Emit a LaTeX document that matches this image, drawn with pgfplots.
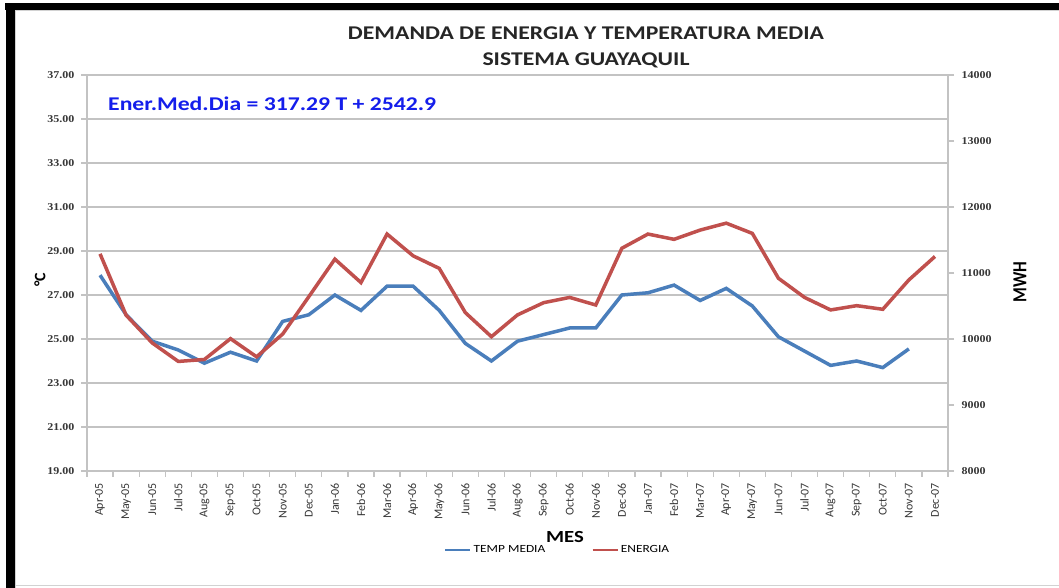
\documentclass[border=0pt]{standalone}
\usepackage{pgfplots}
\pgfplotsset{compat=1.18}
\usepackage{pgfplotstable}
\usepackage{fontspec}
\setmainfont{Carlito}
\newfontfamily\calw[FakeStretch=1.22]{Carlito}
\newfontfamily\caln[FakeStretch=0.85]{Carlito}
\newfontfamily\tnr[FakeStretch=1.15]{Liberation Serif}
\definecolor{tempblue}{RGB}{74,126,187}
\definecolor{enerred}{RGB}{192,80,77}
\definecolor{gridgray}{RGB}{195,195,195}
\definecolor{eqblue}{RGB}{20,30,235}
\definecolor{ticktext}{RGB}{55,55,55}

\pgfplotstableread{
idx temp
0 27.9
1 26.1
2 24.9
3 24.5
4 23.9
5 24.4
6 24.0
7 25.8
8 26.1
9 27.0
10 26.3
11 27.4
12 27.4
13 26.3
14 24.8
15 24.0
16 24.9
17 25.2
18 25.5
19 25.5
20 27.0
21 27.1
22 27.45
23 26.75
24 27.3
25 26.5
26 25.1
27 24.45
28 23.8
29 24.0
30 23.7
31 24.55
}\temptable

\pgfplotstableread{
idx ener
0 11290
1 10360
2 9940
3 9660
4 9690
5 10005
6 9730
7 10075
8 10640
9 11210
10 10855
11 11590
12 11260
13 11070
14 10400
15 10035
16 10365
17 10550
18 10630
19 10515
20 11375
21 11590
22 11510
23 11650
24 11755
25 11600
26 10920
27 10630
28 10440
29 10505
30 10450
31 10895
32 11250
}\enertable

\pgfplotsset{
  common/.style={
    at={(87bp,117bp)}, anchor=south west, scale only axis,
    width=861bp, height=396bp, xmin=-0.5, xmax=32.5,
    axis line style={gridgray, line width=1.2bp},
    tick style={gridgray, line width=1.2bp},
    major tick length=6bp, tick align=outside,
    /pgf/number format/assume math mode=true,
  }
}

\begin{document}
\begin{tikzpicture}[x=1bp,y=1bp]
\useasboundingbox (0,0) rectangle (1059,588);
\fill[white] (0,0) rectangle (1059,588);
\fill[black] (5,578) rectangle (1059,584.5);
\fill[black] (6,0) rectangle (14.5,584.5);
\draw[gray!35, line width=1bp] (15,577) -- (1059,577);
\draw[gray!35, line width=1bp] (15.5,0) -- (15.5,577);
\draw[gray!35, line width=1bp] (15,2) -- (1059,2);

\begin{axis}[common,
  ymin=19, ymax=37, ytick={19,21,...,37},
  axis x line*=bottom, axis y line*=left,
  ymajorgrids, grid style={gridgray, line width=1.2bp},
  xtick={-0.5,0.5,...,32.5},
  x tick label as interval,
  xticklabels={Apr-05,May-05,Jun-05,Jul-05,Aug-05,Sep-05,Oct-05,Nov-05,Dec-05,Jan-06,Feb-06,Mar-06,Apr-06,May-06,Jun-06,Jul-06,Aug-06,Sep-06,Oct-06,Nov-06,Dec-06,Jan-07,Feb-07,Mar-07,Apr-07,May-07,Jun-07,Jul-07,Aug-07,Sep-07,Oct-07,Nov-07,Dec-07},
  xticklabel style={rotate=90, anchor=east, font=\fontsize{12}{12}\selectfont, text=ticktext, inner sep=0pt, xshift=-6bp},
  yticklabel style={font=\tnr\bfseries\fontsize{10.5}{10.5}\selectfont, text=ticktext, xshift=-3bp,
    /pgf/number format/fixed, /pgf/number format/fixed zerofill, /pgf/number format/precision=2},
]
\addplot[tempblue, line width=3.5bp] table[x=idx,y=temp]{\temptable};
\end{axis}

\begin{axis}[common,
  ymin=8000, ymax=14000, ytick={8000,9000,...,14000},
  scaled y ticks=false,
  axis y line*=right, axis x line=none, xtick=\empty,
  yticklabel style={font=\tnr\bfseries\fontsize{10.5}{10.5}\selectfont, text=ticktext, xshift=4bp,
    /pgf/number format/fixed, /pgf/number format/1000 sep={}},
  legend image code/.code={\draw[#1, line width=2.5bp] (0bp,0bp) -- (25bp,0bp);},
  legend style={draw=none, fill=none, inner sep=0pt, legend columns=2,
    at={(0.4146,-0.1995)}, anchor=west, font=\calw\fontsize{11}{11}\selectfont,
    /tikz/every even column/.append style={column sep=44bp}},
  legend cell align=left,
]
\addlegendimage{tempblue}
\addlegendentry{TEMP MEDIA}
\addplot[enerred, line width=3.5bp] table[x=idx,y=ener]{\enertable};
\addlegendentry{ENERGIA}
\end{axis}

\node[align=center, font=\calw\bfseries\fontsize{19.5}{26}\selectfont, text=black!85] at (586,541) {DEMANDA DE ENERGIA Y TEMPERATURA MEDIA\\SISTEMA GUAYAQUIL};
\node[anchor=west, font=\calw\bfseries\fontsize{19.5}{19.5}\selectfont, text=eqblue, inner sep=0pt] at (108,484) {Ener.Med.Dia = 317.29 T + 2542.9};
\node[rotate=90, font=\bfseries\fontsize{16}{16}\selectfont] at (40,308) {°C};
\node[rotate=90, font=\caln\bfseries\fontsize{20}{20}\selectfont] at (1020,306) {MWH};
\node[font=\calw\bfseries\fontsize{17}{17}\selectfont] at (565,51) {MES};
\end{tikzpicture}
\end{document}
